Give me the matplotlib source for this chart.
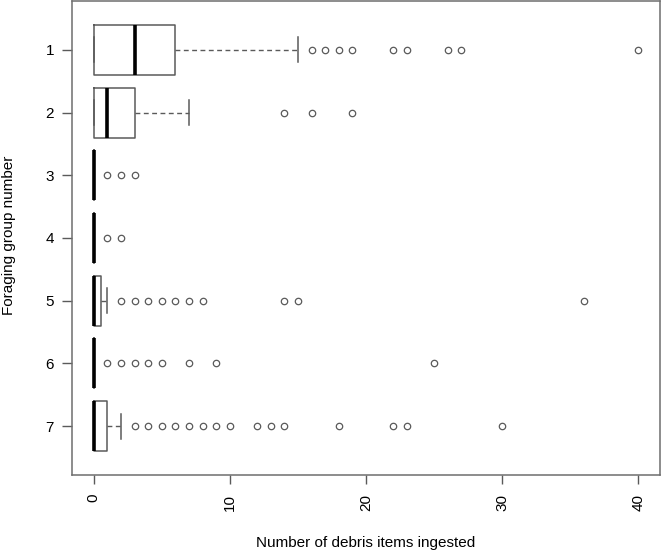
import matplotlib
matplotlib.use("Agg")
import matplotlib.pyplot as plt

plt.rcParams['font.family'] = ['Liberation Sans', 'DejaVu Sans']

groups = ["1", "2", "3", "4", "5", "6", "7"]
q1 = [0, 0, 0, 0, 0, 0, 0]
median = [3, 1, 0, 0, 0, 0, 0]
q3 = [6, 3, 0, 0, 0.5, 0, 1]
whisker_low = [0, 0, 0, 0, 0, 0, 0]
whisker_high = [15, 7, 0, 0, 1, 0, 2]
outliers = [
    [16, 17, 18, 19, 22, 23, 26, 27, 40],
    [14, 16, 19],
    [1, 2, 3],
    [1, 2],
    [2, 3, 4, 5, 6, 7, 8, 14, 15, 36],
    [1, 2, 3, 4, 5, 7, 9, 25],
    [3, 4, 5, 6, 7, 8, 9, 10, 12, 13, 14, 18, 22, 23, 30],
]
x_ticks = [0, 10, 20, 30, 40]

stats = []
for i, g in enumerate(groups):
    stats.append(dict(label=g, q1=q1[i], med=median[i], q3=q3[i],
                      whislo=whisker_low[i], whishi=whisker_high[i],
                      fliers=outliers[i]))

fig = plt.figure(figsize=(6.62, 5.51), dpi=100)
ax = fig.add_axes([72/662, 1 - 475/551, (660-72)/662, (475-1)/551])

gray = '#5a5a5a'
positions = list(range(1, len(groups) + 1))
ax.bxp(stats, positions=positions, orientation='horizontal', widths=0.8,
       showfliers=True, patch_artist=False,
       boxprops=dict(color=gray, linewidth=1.1),
       medianprops=dict(color='black', linewidth=2.6, solid_capstyle='butt'),
       whiskerprops=dict(color=gray, linewidth=1.0, linestyle=(0, (3.5, 2.5))),
       capprops=dict(color=gray, linewidth=1.1),
       capwidths=0.4,
       flierprops=dict(marker='o', markersize=4.6, markerfacecolor='none',
                       markeredgecolor=gray, markeredgewidth=0.9, linestyle='none'))

ax.set_xlim(-1.6, 41.6)
ax.set_ylim(7.78, 0.22)
ax.set_yticks(positions)
ax.set_yticklabels(groups, fontsize=11)
ax.set_xticks(x_ticks)
ax.set_xticklabels([str(t) for t in x_ticks], rotation=90, fontsize=11)
ax.tick_params(axis='x', length=6.5, width=1.0, color=gray, pad=7)
ax.tick_params(axis='y', length=7, width=1.0, color=gray, pad=6)
for s in ax.spines.values():
    s.set_color('#6e6e6e')
    s.set_linewidth(1.1)

ax.set_xlabel("Number of debris items ingested", fontsize=11)
ax.set_ylabel("Foraging group number", fontsize=11)
ax.xaxis.label.set_va('center')
ax.yaxis.label.set_va('center')
ax.xaxis.set_label_coords((366 - 72) / 588, (475 - 543) / 474)
ax.yaxis.set_label_coords((9 - 72) / 588, (475 - 235) / 474)

fig.savefig("out.png", dpi=100)
